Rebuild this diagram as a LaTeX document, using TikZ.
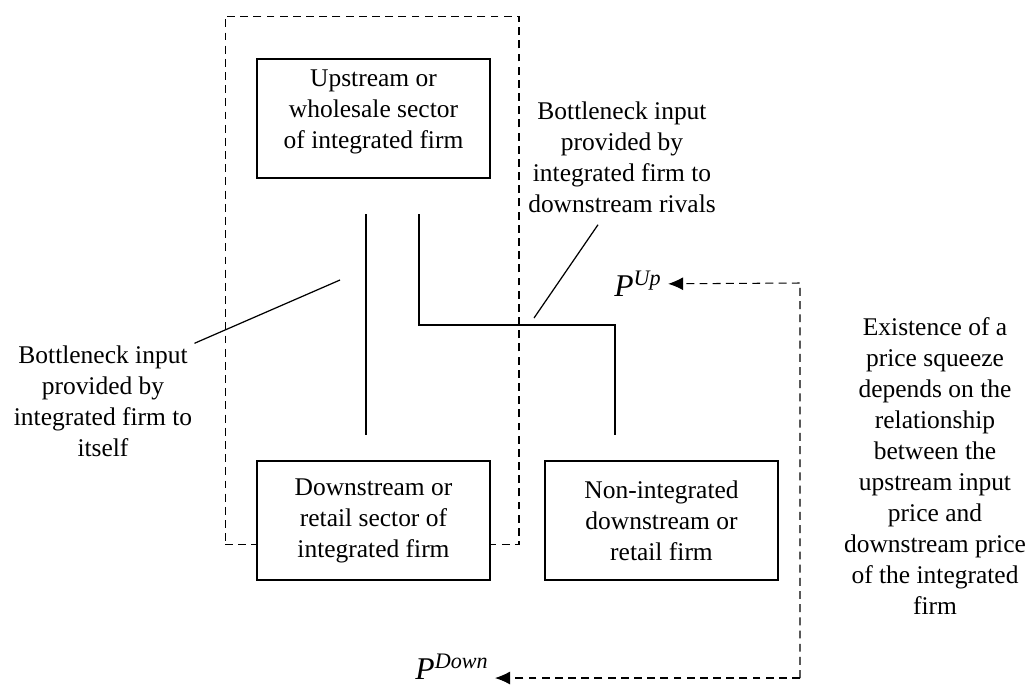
\documentclass[tikz,border=0pt]{standalone}
\usepackage{fontspec}
\setmainfont{Liberation Serif}
\usetikzlibrary{arrows.meta}

\begin{document}
\begin{tikzpicture}[x=0.02cm, y=-0.02cm, line width=0.7pt,
  font=\fontsize{14.5}{17.6}\selectfont,
  box/.style={draw, fill=white, minimum width=4.66cm, minimum height=2.38cm, align=center, inner sep=0pt},
  note/.style={align=center, inner sep=1pt},
  price/.style={dash pattern=on 4.5pt off 3pt, line width=0.6pt, -{Latex[length=3mm,width=2.6mm]}}]

\useasboundingbox (0,0) rectangle (1030,684);

% integrated firm
\node[draw, dash pattern=on 4.5pt off 3pt, line width=0.6pt, minimum width=5.88cm, minimum height=10.58cm] (firm) at (372,280.5) {};

\node[box] (up) at (373.5,118.5) {Upstream or\\wholesale sector\\of integrated firm\\[-0.25cm]};
\node[box] (down) at (373.5,520.5) {Downstream or\\retail sector of\\integrated firm};
\node[box] (rival) at (661.5,520.5) {Non-integrated\\downstream or\\retail firm};

% supply lines
\coordinate (a1) at (366,214);
\coordinate (a2) at (366,435);
\coordinate (b1) at (419,214);
\coordinate (b2) at (419,325);
\coordinate (b3) at (615,325);
\coordinate (b4) at (615,435);

\draw (a1) -- (a2);
\draw (b1) -- (b2) -- (b3) -- (b4);

% notes
\node[note] (self) at (103,401) {Bottleneck input\\provided by\\integrated firm to\\itself};
\node[note] (rivals) at (622,157) {Bottleneck input\\provided by\\integrated firm to\\downstream rivals};
\node[note] (squeeze) at (935,466) {Existence of a\\price squeeze\\depends on the\\relationship\\between the\\upstream input\\price and\\downstream price\\of the integrated\\firm};

\coordinate (s1) at (340,280);
\coordinate (r1) at (534,318);
\draw (s1) -- (self.north east);
\draw (r1) -- ([xshift=-0.48cm,yshift=-0.2cm]rivals.south);

% prices
\node (pup) at (638,284) {\fontsize{18}{20}\selectfont\textit{P}\textsuperscript{\textit{Up}}};
\node (pdown) at (452,667) {\fontsize{18}{20}\selectfont\textit{P}\textsuperscript{\textit{Down}}};

\coordinate (c1) at (800,283);
\coordinate (c2) at (800,678);
\draw[price] (c2) -- (c1) -- (pup);
\draw[price] (c2) -- (pdown.east |- c2);

\end{tikzpicture}
\end{document}
